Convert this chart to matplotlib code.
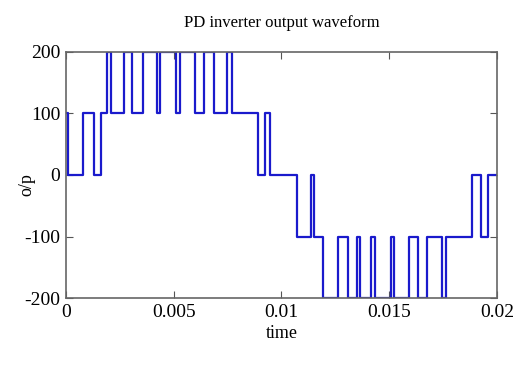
# Recreate PD inverter output waveform plot
import numpy as np
import matplotlib
matplotlib.use('Agg')
import matplotlib.pyplot as plt

plt.rcParams['font.family'] = ['Liberation Serif', 'DejaVu Serif']
plt.rcParams['axes.unicode_minus'] = False

switch_times = [0.0, 0.00009, 0.00079, 0.00129, 0.00162, 0.00189, 0.00208,
                0.00268, 0.00305, 0.00360, 0.00425, 0.00439, 0.00513, 0.00531,
                0.00600, 0.00642, 0.00688, 0.00748, 0.00771, 0.00891, 0.00924,
                0.00947, 0.01072, 0.01136, 0.01150, 0.01192, 0.01261, 0.01307,
                0.01349, 0.01367, 0.01418, 0.01436, 0.01510, 0.01524, 0.01594,
                0.01635, 0.01677, 0.01746, 0.01764, 0.01885, 0.01926, 0.01958,
                0.02]
levels = [100, 0, 100, 0, 100, 200, 100,
          200, 100, 200, 100, 200, 100, 200,
          100, 200, 100, 200, 100, 0, 100,
          0, -100, 0, -100, -200, -100, -200,
          -100, -200, -100, -200, -100, -200, -100,
          -200, -100, -200, -100, 0, -100, 0,
          0]

x_ticks = [0, 0.005, 0.01, 0.015, 0.02]
x_tick_labels = ['0', '0.005', '0.01', '0.015', '0.02']
y_ticks = [-200, -100, 0, 100, 200]

fig = plt.figure(figsize=(5.22, 3.68), dpi=100)
ax = fig.add_axes([0.126, 0.190, 0.826, 0.669])

ax.step(switch_times, levels, where='post', color='#1a1acc', linewidth=1.6)

ax.set_xlim(0, 0.02)
ax.set_ylim(-200, 200)
ax.set_xticks(x_ticks)
ax.set_xticklabels(x_tick_labels)
ax.set_yticks(y_ticks)

# MATLAB-like box with inward ticks on all sides
ax.tick_params(direction='in', top=True, right=True, labelsize=14,
               length=5, color='#555555', pad=4)
for s in ax.spines.values():
    s.set_color('#666666')
    s.set_linewidth(1.2)

ax.set_title('PD inverter output waveform', fontsize=12, pad=18)
ax.set_xlabel('time', fontsize=13)
ax.set_ylabel('o/p', fontsize=13)
ax.xaxis.set_label_coords(0.5, -0.11)
ax.yaxis.set_label_coords(-0.07, 0.46)

plt.savefig('out.png', dpi=100)
